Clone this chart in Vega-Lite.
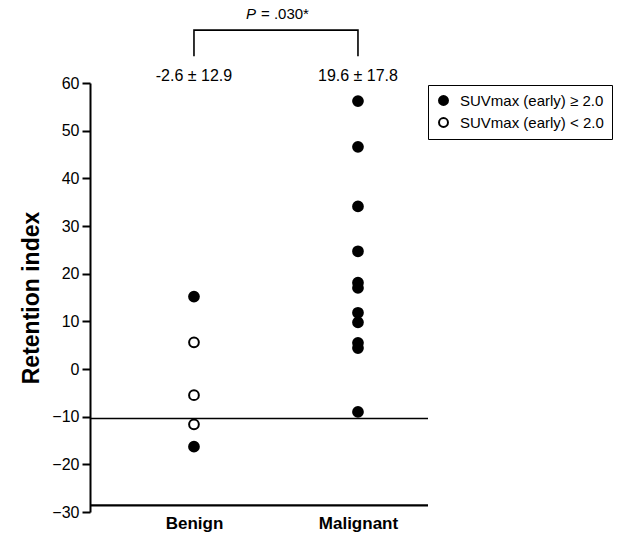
{
  "$schema": "https://vega.github.io/schema/vega-lite/v6.json",
  "autosize": {"type": "none"},
  "padding": {"left": 90, "top": 83, "right": 193, "bottom": 21},
  "width": 338,
  "height": 429,
  "config": {
    "font": "Liberation Sans",
    "view": {"stroke": null},
    "text": {"font": "Liberation Sans", "color": "black"}
  },
  "layer": [
    {
      "data": {"values": [{"ref": -10.4}]},
      "mark": {"type": "rule", "color": "black", "strokeWidth": 1.6},
      "encoding": {
        "y": {"field": "ref", "type": "quantitative", "scale": {"domain": [-30, 60], "nice": false, "zero": false}}
      }
    },
    {
      "data": {"values": [{"ref": -28.6}]},
      "mark": {"type": "rule", "color": "black", "strokeWidth": 2.2},
      "encoding": {
        "y": {"field": "ref", "type": "quantitative", "scale": {"domain": [-30, 60], "nice": false, "zero": false}}
      }
    },
    {
      "data": {"values": [
        {"grp": 1, "ri": 15.2, "suv": "SUVmax (early) ≥ 2.0"},
        {"grp": 1, "ri": 5.6, "suv": "SUVmax (early) < 2.0"},
        {"grp": 1, "ri": -5.5, "suv": "SUVmax (early) < 2.0"},
        {"grp": 1, "ri": -11.6, "suv": "SUVmax (early) < 2.0"},
        {"grp": 1, "ri": -16.3, "suv": "SUVmax (early) ≥ 2.0"},
        {"grp": 2, "ri": 56.2, "suv": "SUVmax (early) ≥ 2.0"},
        {"grp": 2, "ri": 46.6, "suv": "SUVmax (early) ≥ 2.0"},
        {"grp": 2, "ri": 34.1, "suv": "SUVmax (early) ≥ 2.0"},
        {"grp": 2, "ri": 24.7, "suv": "SUVmax (early) ≥ 2.0"},
        {"grp": 2, "ri": 18.1, "suv": "SUVmax (early) ≥ 2.0"},
        {"grp": 2, "ri": 17.0, "suv": "SUVmax (early) ≥ 2.0"},
        {"grp": 2, "ri": 11.8, "suv": "SUVmax (early) ≥ 2.0"},
        {"grp": 2, "ri": 9.8, "suv": "SUVmax (early) ≥ 2.0"},
        {"grp": 2, "ri": 5.5, "suv": "SUVmax (early) ≥ 2.0"},
        {"grp": 2, "ri": 4.4, "suv": "SUVmax (early) ≥ 2.0"},
        {"grp": 2, "ri": -9.0, "suv": "SUVmax (early) ≥ 2.0"}
      ]},
      "mark": {"type": "circle", "size": 95, "opacity": 1, "stroke": "black", "strokeWidth": 2},
      "encoding": {
        "x": {
          "field": "grp", "type": "quantitative",
          "scale": {"domain": [0.366, 2.427], "nice": false, "zero": false},
          "axis": {
            "title": null, "values": [1, 2], "domain": false, "ticks": false, "grid": false,
            "labelExpr": "datum.value == 1 ? 'Benign' : 'Malignant'",
            "labelFontSize": 17, "labelFontWeight": "bold", "labelColor": "black", "labelPadding": 3, "labelFont": "Liberation Sans"
          }
        },
        "y": {
          "field": "ri", "type": "quantitative",
          "scale": {"domain": [-30, 60], "nice": false, "zero": false},
          "axis": {
            "title": "Retention index", "values": [-30, -20, -10, 0, 10, 20, 30, 40, 50, 60],
            "grid": false, "domainColor": "black", "domainWidth": 2, "tickColor": "black", "tickWidth": 2, "tickSize": 8,
            "labelFontSize": 16, "labelColor": "black", "labelPadding": 3, "labelFont": "Liberation Sans",
            "titleFontSize": 23, "titleFontWeight": "bold", "titleColor": "black", "titlePadding": 8, "titleFont": "Liberation Sans"
          }
        },
        "fill": {
          "field": "suv", "type": "nominal",
          "scale": {"domain": ["SUVmax (early) ≥ 2.0", "SUVmax (early) < 2.0"], "range": ["black", "white"]},
          "legend": {
            "title": null, "orient": "none", "legendX": 338, "legendY": 2,
            "strokeColor": "black", "padding": 8,
            "symbolType": "circle", "symbolSize": 80, "symbolStrokeColor": "black", "symbolStrokeWidth": 2, "symbolOpacity": 1,
            "labelFontSize": 15, "labelColor": "black", "labelFont": "Liberation Sans", "labelOffset": 9, "rowPadding": 5, "labelLimit": 300
          }
        }
      }
    },
    {
      "data": {"values": [
        {"grp": 1, "y": 61.4, "t": "-2.6 ± 12.9"},
        {"grp": 2, "y": 61.4, "t": "19.6 ± 17.8"}
      ]},
      "mark": {"type": "text", "fontSize": 16, "baseline": "middle", "align": "center"},
      "encoding": {
        "x": {"field": "grp", "type": "quantitative", "scale": {"domain": [0.366, 2.427], "nice": false, "zero": false}},
        "y": {"field": "y", "type": "quantitative", "scale": {"domain": [-30, 60], "nice": false, "zero": false}},
        "text": {"field": "t"}
      }
    },
    {
      "data": {"values": [
        {"grp": 1, "y": 65.6, "o": 1},
        {"grp": 1, "y": 71.1, "o": 2},
        {"grp": 2, "y": 71.1, "o": 3},
        {"grp": 2, "y": 65.6, "o": 4}
      ]},
      "mark": {"type": "line", "color": "black", "strokeWidth": 1.6},
      "encoding": {
        "x": {"field": "grp", "type": "quantitative", "scale": {"domain": [0.366, 2.427], "nice": false, "zero": false}},
        "y": {"field": "y", "type": "quantitative", "scale": {"domain": [-30, 60], "nice": false, "zero": false}},
        "order": {"field": "o", "type": "quantitative"}
      }
    },
    {
      "data": {"values": [{"grp": 1.5, "y": 74.4, "t": "P"}]},
      "mark": {"type": "text", "fontSize": 15, "fontStyle": "italic", "baseline": "middle", "align": "right", "dx": -20},
      "encoding": {
        "x": {"field": "grp", "type": "quantitative", "scale": {"domain": [0.366, 2.427], "nice": false, "zero": false}},
        "y": {"field": "y", "type": "quantitative", "scale": {"domain": [-30, 60], "nice": false, "zero": false}},
        "text": {"field": "t"}
      }
    },
    {
      "data": {"values": [{"grp": 1.5, "y": 74.4, "t": "= .030*"}]},
      "mark": {"type": "text", "fontSize": 15, "baseline": "middle", "align": "left", "dx": -15},
      "encoding": {
        "x": {"field": "grp", "type": "quantitative", "scale": {"domain": [0.366, 2.427], "nice": false, "zero": false}},
        "y": {"field": "y", "type": "quantitative", "scale": {"domain": [-30, 60], "nice": false, "zero": false}},
        "text": {"field": "t"}
      }
    }
  ]
}
